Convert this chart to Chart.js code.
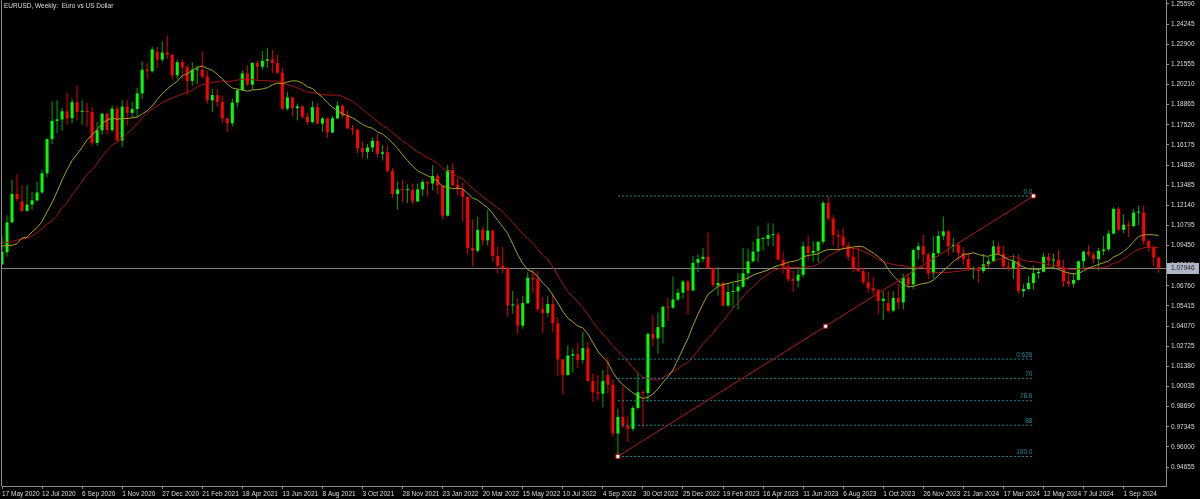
<!DOCTYPE html>
<html>
<head>
<meta charset="utf-8">
<script src="https://cdn.jsdelivr.net/npm/chart.js@4.4.1/dist/chart.umd.min.js"></script>
<style>
  html, body { margin: 0; padding: 0; background: #000; }
  #wrap { width: 1200px; height: 499px; }
</style>
</head>
<body>
<div id="wrap"><canvas id="chart" width="1200" height="499"></canvas></div>
<script>
// EURUSD weekly bars, first bar = week of 17 May 2020
const opens = [
  1.0818,1.0900,1.1100,1.1290,1.1240,1.1177,1.1219,1.1247,1.1300,1.1428,
  1.1656,1.1778,1.1788,1.1842,1.1796,1.1903,1.1838,1.1845,1.1837,1.1631,
  1.1715,1.1826,1.1717,1.1860,1.1647,1.1874,1.1832,1.1857,1.1962,1.2120,
  1.2110,1.2240,1.2187,1.2235,1.2220,1.2083,1.2170,1.2136,1.2045,1.2120,
  1.2120,1.2075,1.1915,1.1951,1.1905,1.1795,1.1762,1.1900,1.1983,1.2095,
  1.2020,1.2165,1.2140,1.2180,1.2190,1.2165,1.2100,1.1860,1.1935,1.1863,
  1.1875,1.1806,1.1770,1.1870,1.1760,1.1795,1.1700,1.1795,1.1880,1.1814,
  1.1728,1.1718,1.1595,1.1571,1.1600,1.1645,1.1558,1.1568,1.1445,1.1290,
  1.1320,1.1315,1.1317,1.1240,1.1320,1.1370,1.1360,1.1410,1.1345,1.1145,
  1.1450,1.1350,1.1320,1.1270,1.0930,1.0910,1.1050,1.0980,1.1045,1.0875,
  1.0810,1.0795,1.0545,1.0550,1.0410,1.0560,1.0730,1.0720,1.0520,1.0495,
  1.0555,1.0425,1.0185,1.0080,1.0210,1.0220,1.0180,1.0260,1.0040,0.9965,
  0.9955,1.0080,1.0015,0.9690,0.9800,0.9740,0.9720,0.9860,0.9965,0.9960,
  1.0355,1.0325,1.0400,1.0535,1.0530,1.0585,1.0630,1.0705,1.0645,1.0830,
  1.0855,1.0870,1.0795,1.0680,1.0695,1.0545,1.0635,1.0640,1.0670,1.0760,
  1.0840,1.0905,1.0990,1.0990,1.1015,1.1020,1.0850,1.0805,1.0720,1.0710,
  1.0750,1.0940,1.0895,1.0910,1.0970,1.1230,1.1125,1.1015,1.1005,1.0945,
  1.0870,1.0795,1.0775,1.0700,1.0660,1.0645,1.0575,1.0560,1.0510,1.0595,
  1.0565,1.0730,1.0685,1.0915,1.0940,1.0885,1.0760,1.0895,1.1010,1.1040,
  1.0940,1.0950,1.0897,1.0855,1.0785,1.0785,1.0775,1.0820,1.0840,1.0940,
  1.0890,1.0805,1.0790,1.0840,1.0640,1.0655,1.0695,1.0760,1.0770,1.0870,
  1.0845,1.0850,1.0800,1.0705,1.0690,1.0715,1.0840,1.0905,1.0885,1.0855,
  1.0910,1.0920,1.1025,1.1190,1.1050,1.1085,1.1075,1.1165,1.1165,1.0975,
  1.0935,1.0865
];
const highs = [
  1.1009,1.1147,1.1384,1.1422,1.1348,1.1349,1.1303,1.1371,1.1452,1.1660,
  1.1909,1.1916,1.1865,1.1966,1.1924,1.2011,1.1917,1.1900,1.1872,1.1771,
  1.1831,1.1831,1.1880,1.1880,1.1920,1.1920,1.1905,1.2001,1.2177,1.2164,
  1.2273,1.2272,1.2310,1.2349,1.2222,1.2190,1.2190,1.2150,1.2169,1.2145,
  1.2243,1.2113,1.1990,1.1990,1.1945,1.1800,1.1928,1.1995,1.2117,1.2150,
  1.2168,1.2180,1.2245,1.2267,1.2254,1.2218,1.2133,1.1975,1.1937,1.1895,
  1.1880,1.1830,1.1909,1.1900,1.1805,1.1800,1.1810,1.1909,1.1886,1.1846,
  1.1753,1.1726,1.1640,1.1624,1.1669,1.1692,1.1616,1.1613,1.1464,1.1374,
  1.1383,1.1355,1.1360,1.1360,1.1386,1.1375,1.1482,1.1424,1.1348,1.1483,
  1.1495,1.1395,1.1365,1.1275,1.1121,1.1137,1.1070,1.1185,1.1054,1.0935,
  1.0936,1.0805,1.0642,1.0595,1.0607,1.0765,1.0787,1.0773,1.0601,1.0606,
  1.0615,1.0465,1.0186,1.0278,1.0258,1.0293,1.0368,1.0303,1.0090,1.0079,
  1.0114,1.0198,1.0050,0.9853,0.9999,0.9809,0.9875,1.0094,0.9976,1.0363,
  1.0481,1.0497,1.0545,1.0594,1.0736,1.0657,1.0714,1.0714,1.0875,1.0887,
  1.0929,1.1033,1.0800,1.0805,1.0705,1.0692,1.0695,1.0760,1.0930,1.0925,
  1.0973,1.1075,1.1000,1.1095,1.1092,1.1035,1.0905,1.0830,1.0777,1.0787,
  1.0970,1.1012,1.0976,1.0975,1.1245,1.1276,1.1149,1.1047,1.1065,1.0965,
  1.0931,1.0945,1.0795,1.0768,1.0737,1.0657,1.0640,1.0640,1.0640,1.0695,
  1.0756,1.0756,1.0925,1.0965,1.1017,1.0895,1.1009,1.1040,1.1140,1.1048,
  1.0998,1.0970,1.0933,1.0895,1.0806,1.0806,1.0888,1.0865,1.0981,1.0964,
  1.0942,1.0840,1.0885,1.0885,1.0690,1.0740,1.0812,1.0790,1.0895,1.0895,
  1.0890,1.0916,1.0852,1.0761,1.0761,1.0845,1.0910,1.0948,1.0900,1.0930,
  1.1009,1.1047,1.1201,1.1202,1.1155,1.1110,1.1190,1.1214,1.1210,1.0985,
  1.0945,1.0870
];
const lows = [
  1.0816,1.0870,1.1096,1.1240,1.1168,1.1170,1.1185,1.1240,1.1291,1.1400,
  1.1622,1.1696,1.1711,1.1753,1.1760,1.1781,1.1753,1.1737,1.1612,1.1612,
  1.1686,1.1689,1.1702,1.1640,1.1602,1.1745,1.1800,1.1802,1.1925,1.2059,
  1.2100,1.2130,1.2170,1.2193,1.2054,1.2055,1.2058,1.1952,1.2012,1.2023,
  1.2065,1.1892,1.1835,1.1873,1.1762,1.1704,1.1740,1.1867,1.1980,1.2010,
  1.1986,1.2052,1.2120,1.2132,1.2100,1.2093,1.1847,1.1847,1.1807,1.1781,
  1.1795,1.1752,1.1760,1.1755,1.1706,1.1664,1.1695,1.1790,1.1800,1.1725,
  1.1685,1.1563,1.1529,1.1524,1.1570,1.1535,1.1513,1.1433,1.1265,1.1186,
  1.1235,1.1227,1.1221,1.1234,1.1276,1.1273,1.1313,1.1290,1.1121,1.1140,
  1.1340,1.1281,1.1106,1.0885,1.0806,1.0900,1.0945,1.0945,1.0835,1.0757,
  1.0760,1.0470,1.0490,1.0350,1.0390,1.0555,1.0628,1.0505,1.0359,1.0470,
  1.0365,1.0072,0.9952,1.0075,1.0097,1.0123,1.0155,1.0035,0.9900,0.9910,
  0.9865,0.9955,0.9668,0.9536,0.9725,0.9632,0.9705,0.9850,0.9730,0.9900,
  1.0270,1.0223,1.0290,1.0443,1.0520,1.0575,1.0590,1.0483,1.0642,1.0768,
  1.0835,1.0790,1.0669,1.0610,1.0535,1.0533,1.0525,1.0516,1.0660,1.0712,
  1.0830,1.0837,1.0910,1.0942,1.0942,1.0847,1.0760,1.0701,1.0635,1.0665,
  1.0730,1.0845,1.0835,1.0833,1.0955,1.1110,1.0945,1.0912,1.0925,1.0845,
  1.0765,1.0770,1.0686,1.0630,1.0617,1.0488,1.0448,1.0495,1.0500,1.0522,
  1.0516,1.0656,1.0655,1.0852,1.0828,1.0723,1.0723,1.0880,1.0980,1.0877,
  1.0898,1.0845,1.0821,1.0777,1.0722,1.0695,1.0761,1.0796,1.0837,1.0880,
  1.0800,1.0775,1.0724,1.0623,1.0601,1.0650,1.0650,1.0725,1.0765,1.0805,
  1.0788,1.0790,1.0668,1.0670,1.0666,1.0710,1.0790,1.0870,1.0825,1.0777,
  1.0880,1.0905,1.1020,1.1040,1.1026,1.1001,1.1068,1.1083,1.0950,1.0905,
  1.0810,1.0761
];
const closes = [
  1.0902,1.1100,1.1290,1.1256,1.1177,1.1219,1.1247,1.1300,1.1428,1.1656,
  1.1778,1.1788,1.1842,1.1796,1.1903,1.1838,1.1845,1.1837,1.1631,1.1715,
  1.1826,1.1717,1.1860,1.1647,1.1874,1.1832,1.1857,1.1962,1.2120,1.2110,
  1.2255,1.2187,1.2235,1.2220,1.2083,1.2170,1.2136,1.2045,1.2120,1.2120,
  1.2075,1.1915,1.1951,1.1905,1.1795,1.1762,1.1900,1.1983,1.2095,1.2020,
  1.2165,1.2140,1.2180,1.2190,1.2165,1.2100,1.1860,1.1935,1.1863,1.1875,
  1.1806,1.1770,1.1870,1.1760,1.1795,1.1700,1.1795,1.1880,1.1814,1.1728,
  1.1718,1.1595,1.1571,1.1600,1.1645,1.1558,1.1568,1.1445,1.1290,1.1320,
  1.1315,1.1317,1.1240,1.1320,1.1370,1.1360,1.1410,1.1345,1.1145,1.1450,
  1.1350,1.1320,1.1270,1.0930,1.0910,1.1050,1.0980,1.1045,1.0875,1.0810,
  1.0795,1.0545,1.0550,1.0410,1.0560,1.0730,1.0720,1.0520,1.0495,1.0555,
  1.0425,1.0185,1.0080,1.0210,1.0220,1.0180,1.0260,1.0040,0.9965,0.9955,
  1.0040,1.0015,0.9690,0.9800,0.9740,0.9720,0.9860,0.9965,0.9960,1.0355,
  1.0325,1.0400,1.0535,1.0530,1.0585,1.0630,1.0705,1.0645,1.0830,1.0855,
  1.0870,1.0795,1.0680,1.0695,1.0545,1.0635,1.0640,1.0670,1.0760,1.0840,
  1.0905,1.0990,1.0990,1.1015,1.1020,1.0850,1.0805,1.0720,1.0710,1.0750,
  1.0940,1.0895,1.0910,1.0970,1.1230,1.1125,1.1015,1.1005,1.0945,1.0870,
  1.0795,1.0775,1.0700,1.0660,1.0645,1.0575,1.0590,1.0510,1.0595,1.0565,
  1.0730,1.0685,1.0915,1.0940,1.0885,1.0760,1.0895,1.1010,1.1040,1.0940,
  1.0950,1.0897,1.0855,1.0785,1.0785,1.0775,1.0820,1.0840,1.0940,1.0890,
  1.0805,1.0790,1.0840,1.0640,1.0655,1.0695,1.0760,1.0770,1.0870,1.0845,
  1.0850,1.0800,1.0705,1.0690,1.0715,1.0840,1.0905,1.0885,1.0855,1.0910,
  1.0920,1.1025,1.1190,1.1050,1.1085,1.1075,1.1165,1.1165,1.0975,1.0935,
  1.0865,1.07946
];
// weekly closes before the first visible bar (Dec 2019 - May 2020), only feed the moving averages
const priorCloses = [
  1.1160,1.1120,1.1090,1.1025,1.1090,1.0945,1.0830,1.0845,1.1025,1.1285,
  1.1105,1.0695,1.1140,1.0800,1.0935,1.0875,1.0820,1.0985,1.0840,1.0818
];

const xTickIndex = [0,8,16,24,32,40,48,56,64,72,80,88,96,104,112,120,128,136,144,152,160,168,176,184,192,200,208,216,224];
const xTickLabels = [
  '17 May 2020','12 Jul 2020','6 Sep 2020','1 Nov 2020','27 Dec 2020','21 Feb 2021','18 Apr 2021',
  '13 Jun 2021','8 Aug 2021','3 Oct 2021','28 Nov 2021','23 Jan 2022','20 Mar 2022','15 May 2022',
  '10 Jul 2022','4 Sep 2022','30 Oct 2022','25 Dec 2022','19 Feb 2023','16 Apr 2023','11 Jun 2023',
  '6 Aug 2023','1 Oct 2023','26 Nov 2023','21 Jan 2024','17 Mar 2024','12 May 2024','7 Jul 2024','1 Sep 2024'
];
const yTicks = [
  1.25590,1.24245,1.22900,1.21555,1.20210,1.18865,1.17520,1.16175,1.14830,1.13485,1.12140,1.10795,
  1.09450,1.08105,1.06760,1.05415,1.04070,1.02725,1.01380,1.00035,0.98690,0.97345,0.96000,0.94655
];

const lastPrice = 1.07946;
const fibStartBar = 123, fibEndBar = 206;
const fibLow = 0.9536, fibHigh = 1.1276;
const fibLevels = [0, 0.626, 0.70, 0.786, 0.88, 1.0];
const fibLabels = ['0.0', '0.626', '70', '78.6', '88', '100.0'];

const title = 'EURUSD, Weekly:  Euro vs US Dollar';

// colours
const upBody = '#00ff00', downBody = '#ff0000';
const upWick = '#00a800', downWick = '#e00000';
const fastColor = '#a4a428', slowColor = '#a81414';
const fibColor = '#1f8c9c', trendColor = '#b81818';
const axisColor = '#8c8c8c', textColor = '#dcdcdc';
const smallFont = { family: 'Liberation Sans', size: 6.5 };

function sma(src, n) {
  return src.map((_, i) => {
    if (i < n - 1) return null;
    let s = 0;
    for (let j = i - n + 1; j <= i; j++) s += src[j];
    return s / n;
  });
}
const allCloses = priorCloses.concat(closes);
const maFast = sma(allCloses, 13).slice(priorCloses.length);
const maSlow = sma(allCloses, 21).slice(priorCloses.length);

const bars = closes.map((_, i) => i);
const isUp = bars.map(i => closes[i] >= opens[i]);

const fibDatasets = fibLevels.map(lv => {
  const p = fibHigh - lv * (fibHigh - fibLow);
  return {
    type: 'line',
    data: [{ x: fibStartBar, y: p }, { x: fibEndBar, y: p }],
    borderColor: fibColor, borderWidth: 1, borderDash: [2, 2],
    pointRadius: 0, order: 0
  };
});

const overlayPlugin = {
  id: 'overlay',
  beforeDatasetsDraw(chart) {
    const { ctx, chartArea, scales } = chart;
    const y = Math.round(scales.y.getPixelForValue(lastPrice)) + 0.5;
    ctx.save();
    ctx.strokeStyle = '#808080';
    ctx.lineWidth = 1;
    ctx.beginPath();
    ctx.moveTo(chartArea.left, y);
    ctx.lineTo(chartArea.right, y);
    ctx.stroke();
    ctx.restore();
  },
  afterDatasetsDraw(chart) {
    const { ctx, scales } = chart;
    ctx.save();
    ctx.font = '6.5px "Liberation Sans"';
    ctx.fillStyle = fibColor;
    ctx.textAlign = 'right';
    ctx.textBaseline = 'bottom';
    const xr = scales.x.getPixelForValue(fibEndBar) - 1;
    fibLevels.forEach((lv, i) => {
      const p = fibHigh - lv * (fibHigh - fibLow);
      ctx.fillText(fibLabels[i], xr, scales.y.getPixelForValue(p) - 1);
    });
    ctx.restore();
  },
  afterDraw(chart) {
    const { ctx, chartArea, scales } = chart;
    ctx.save();
    // left frame
    ctx.strokeStyle = axisColor;
    ctx.lineWidth = 1;
    ctx.beginPath();
    ctx.moveTo(1.5, chartArea.top);
    ctx.lineTo(1.5, chartArea.bottom);
    ctx.stroke();
    // title
    ctx.font = '6.5px "Liberation Sans"';
    ctx.fillStyle = textColor;
    ctx.textAlign = 'left';
    ctx.textBaseline = 'middle';
    ctx.fillText(title, 4, 6);
    // last price tag on the axis
    const y = Math.round(scales.y.getPixelForValue(lastPrice));
    ctx.fillStyle = '#aeb6c6';
    ctx.fillRect(chartArea.right + 1, y - 5, 32, 11);
    ctx.fillStyle = '#202020';
    ctx.fillText(lastPrice.toFixed(5), chartArea.right + 5, y + 0.5);
    ctx.restore();
  }
};

new Chart(document.getElementById('chart'), {
  type: 'bar',
  data: {
    datasets: [
      {
        type: 'line', label: 'MA 13',
        data: bars.map(i => ({ x: i, y: maFast[i] })),
        borderColor: fastColor, borderWidth: 1, pointRadius: 0, tension: 0, order: 1
      },
      {
        type: 'line', label: 'MA 21',
        data: bars.map(i => ({ x: i, y: maSlow[i] })),
        borderColor: slowColor, borderWidth: 1, pointRadius: 0, tension: 0, order: 1
      },
      {
        type: 'line', label: 'Fibo trend',
        data: [
          { x: fibStartBar, y: fibLow },
          { x: (fibStartBar + fibEndBar) / 2, y: (fibLow + fibHigh) / 2 },
          { x: fibEndBar, y: fibHigh }
        ],
        borderColor: trendColor, borderWidth: 1,
        pointStyle: 'rect', pointRadius: 2.8, pointBorderWidth: 1,
        pointBackgroundColor: '#ffffff', pointBorderColor: trendColor, order: 0
      },
      ...fibDatasets,
      {
        label: 'bodies',
        data: bars.map(i => ({ x: i, y: [opens[i], closes[i]] })),
        backgroundColor: isUp.map(u => u ? upBody : downBody),
        barThickness: 3, minBarLength: 1, grouped: false, inflateAmount: 0,
        borderWidth: 0, order: 2
      },
      {
        label: 'wicks',
        data: bars.map(i => ({ x: i, y: [lows[i], highs[i]] })),
        backgroundColor: isUp.map(u => u ? upWick : downWick),
        barThickness: 1, grouped: false, inflateAmount: 0,
        borderWidth: 0, order: 3
      }
    ]
  },
  options: {
    responsive: false,
    animation: false,
    devicePixelRatio: 1,
    events: [],
    layout: { autoPadding: false, padding: { left: 2, right: 0, top: 0, bottom: 0 } },
    plugins: { legend: { display: false }, tooltip: { enabled: false } },
    scales: {
      x: {
        type: 'linear', position: 'bottom', min: 0, max: 232.47, offset: false,
        afterBuildTicks: s => { s.ticks = xTickIndex.map(v => ({ value: v })); },
        afterFit: s => { s.height = 13; s.paddingLeft = 0; s.paddingRight = 0; },
        ticks: {
          autoSkip: false, maxRotation: 0, align: 'start', padding: 1,
          color: textColor, font: smallFont,
          callback: v => xTickLabels[xTickIndex.indexOf(v)]
        },
        grid: { drawOnChartArea: false, drawTicks: true, tickLength: 3, color: axisColor, offset: false },
        border: { color: axisColor, width: 1 }
      },
      y: {
        type: 'linear', position: 'right', min: 0.93386, max: 1.25857,
        afterBuildTicks: s => { s.ticks = yTicks.map(v => ({ value: v })); },
        afterFit: s => { s.width = 34; s.paddingTop = 0; s.paddingBottom = 0; },
        ticks: {
          autoSkip: false, padding: 2, color: textColor, font: smallFont,
          callback: v => v.toFixed(5)
        },
        grid: { drawOnChartArea: false, drawTicks: true, tickLength: 3, color: axisColor },
        border: { color: axisColor, width: 1 }
      }
    }
  },
  plugins: [overlayPlugin]
});
</script>
</body>
</html>
